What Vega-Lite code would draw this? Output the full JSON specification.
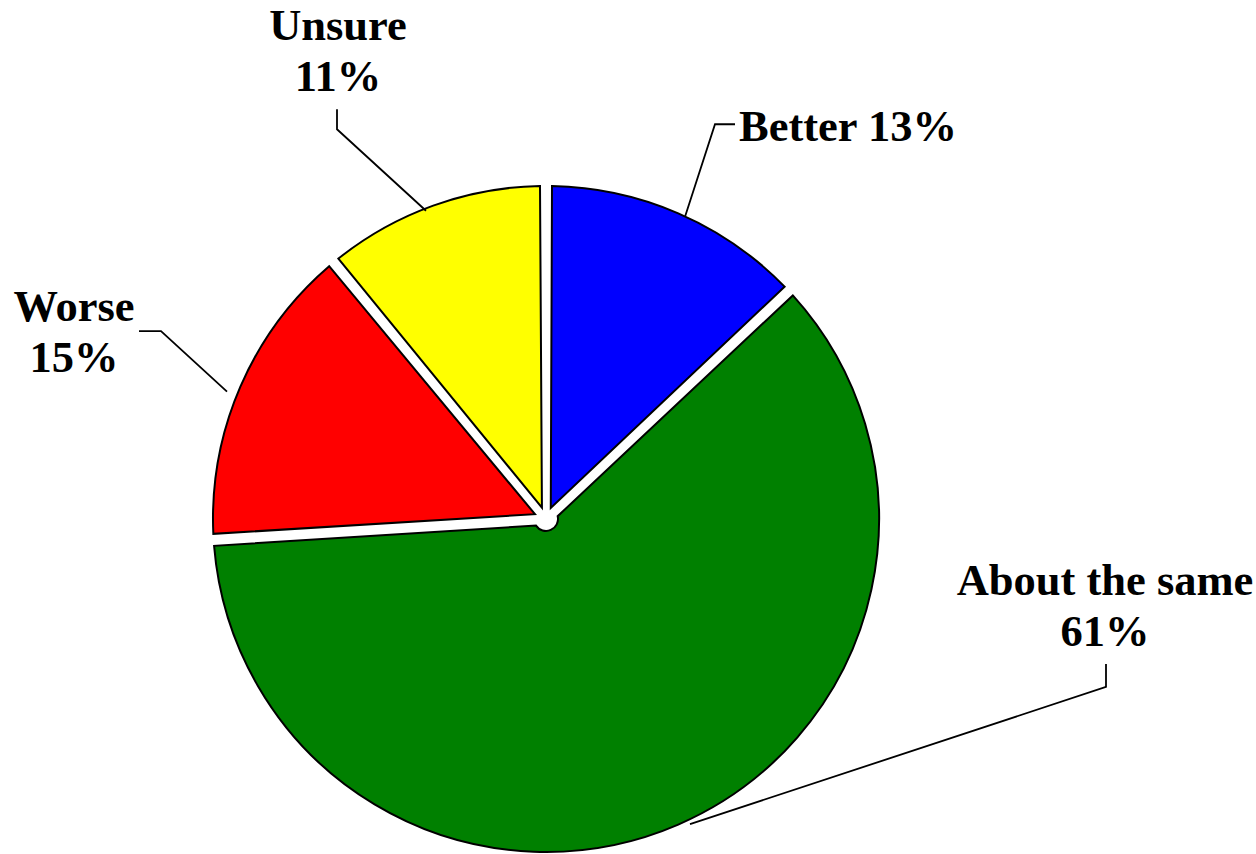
{
  "$schema": "https://vega.github.io/schema/vega-lite/v6.json",
  "width": 1256,
  "height": 854,
  "autosize": {"type": "fit", "contains": "padding"},
  "padding": 0,
  "background": "white",
  "config": {"view": {"stroke": null}},
  "datasets": {
    "slices": [
      {"category": "Better", "value": 13, "rank": 1},
      {"category": "About the same", "value": 61, "rank": 2},
      {"category": "Worse", "value": 15, "rank": 3},
      {"category": "Unsure", "value": 11, "rank": 4}
    ],
    "labels": [
      {"category": "Better", "label": "Better 13%", "lx": 193, "ly": -380, "anchor": "left"},
      {"category": "About the same", "label": "About the same\n61%", "lx": 559, "ly": 77, "anchor": "center"},
      {"category": "Worse", "label": "Worse\n15%", "lx": -472, "ly": -199, "anchor": "center"},
      {"category": "Unsure", "label": "Unsure\n11%", "lx": -208, "ly": -482, "anchor": "center"}
    ],
    "leaders": [
      {"category": "Better", "i": 0, "lx": 189, "ly": -397},
      {"category": "Better", "i": 1, "lx": 169, "ly": -397},
      {"category": "Better", "i": 2, "lx": 139, "ly": -304},
      {"category": "About the same", "i": 0, "lx": 560, "ly": 146},
      {"category": "About the same", "i": 1, "lx": 560, "ly": 169},
      {"category": "About the same", "i": 2, "lx": 144, "ly": 307},
      {"category": "Worse", "i": 0, "lx": -407, "ly": -189},
      {"category": "Worse", "i": 1, "lx": -385, "ly": -189},
      {"category": "Worse", "i": 2, "lx": -319, "ly": -128},
      {"category": "Unsure", "i": 0, "lx": -209, "ly": -412},
      {"category": "Unsure", "i": 1, "lx": -209, "ly": -392},
      {"category": "Unsure", "i": 2, "lx": -120, "ly": -310}
    ]
  },
  "layer": [
    {
      "data": {"name": "slices"},
      "mark": {"type": "arc", "outerRadius": 333, "innerRadius": 12, "padAngle": 0.036, "stroke": "black", "strokeWidth": 2},
      "encoding": {
        "x": {"datum": 0, "type": "quantitative", "scale": {"domain": [-546, 710]}, "axis": null},
        "y": {"datum": 0, "type": "quantitative", "scale": {"domain": [-522, 332], "reverse": true}, "axis": null},
        "theta": {"field": "value", "type": "quantitative", "stack": true},
        "order": {"field": "rank", "type": "quantitative"},
        "color": {
          "field": "category",
          "type": "nominal",
          "scale": {"domain": ["Better", "About the same", "Worse", "Unsure"], "range": ["#0000FF", "#008000", "#FF0000", "#FFFF00"]},
          "legend": null
        }
      }
    },
    {
      "data": {"name": "leaders"},
      "mark": {"type": "line", "color": "black", "strokeWidth": 1.8},
      "encoding": {
        "x": {"field": "lx", "type": "quantitative", "scale": {"domain": [-546, 710]}, "axis": null},
        "y": {"field": "ly", "type": "quantitative", "scale": {"domain": [-522, 332], "reverse": true}, "axis": null},
        "detail": {"field": "category"},
        "order": {"field": "i", "type": "quantitative"}
      }
    },
    {
      "data": {"name": "labels"},
      "transform": [{"filter": "datum.anchor === 'center'"}],
      "mark": {"type": "text", "font": "Liberation Serif", "fontWeight": "bold", "fontSize": 44.5, "align": "center", "baseline": "alphabetic", "lineBreak": "\n", "lineHeight": 51, "color": "black"},
      "encoding": {
        "x": {"field": "lx", "type": "quantitative", "scale": {"domain": [-546, 710]}, "axis": null},
        "y": {"field": "ly", "type": "quantitative", "scale": {"domain": [-522, 332], "reverse": true}, "axis": null},
        "text": {"field": "label"}
      }
    },
    {
      "data": {"name": "labels"},
      "transform": [{"filter": "datum.anchor === 'left'"}],
      "mark": {"type": "text", "font": "Liberation Serif", "fontWeight": "bold", "fontSize": 44.5, "align": "left", "baseline": "alphabetic", "color": "black"},
      "encoding": {
        "x": {"field": "lx", "type": "quantitative", "scale": {"domain": [-546, 710]}, "axis": null},
        "y": {"field": "ly", "type": "quantitative", "scale": {"domain": [-522, 332], "reverse": true}, "axis": null},
        "text": {"field": "label"}
      }
    }
  ]
}
